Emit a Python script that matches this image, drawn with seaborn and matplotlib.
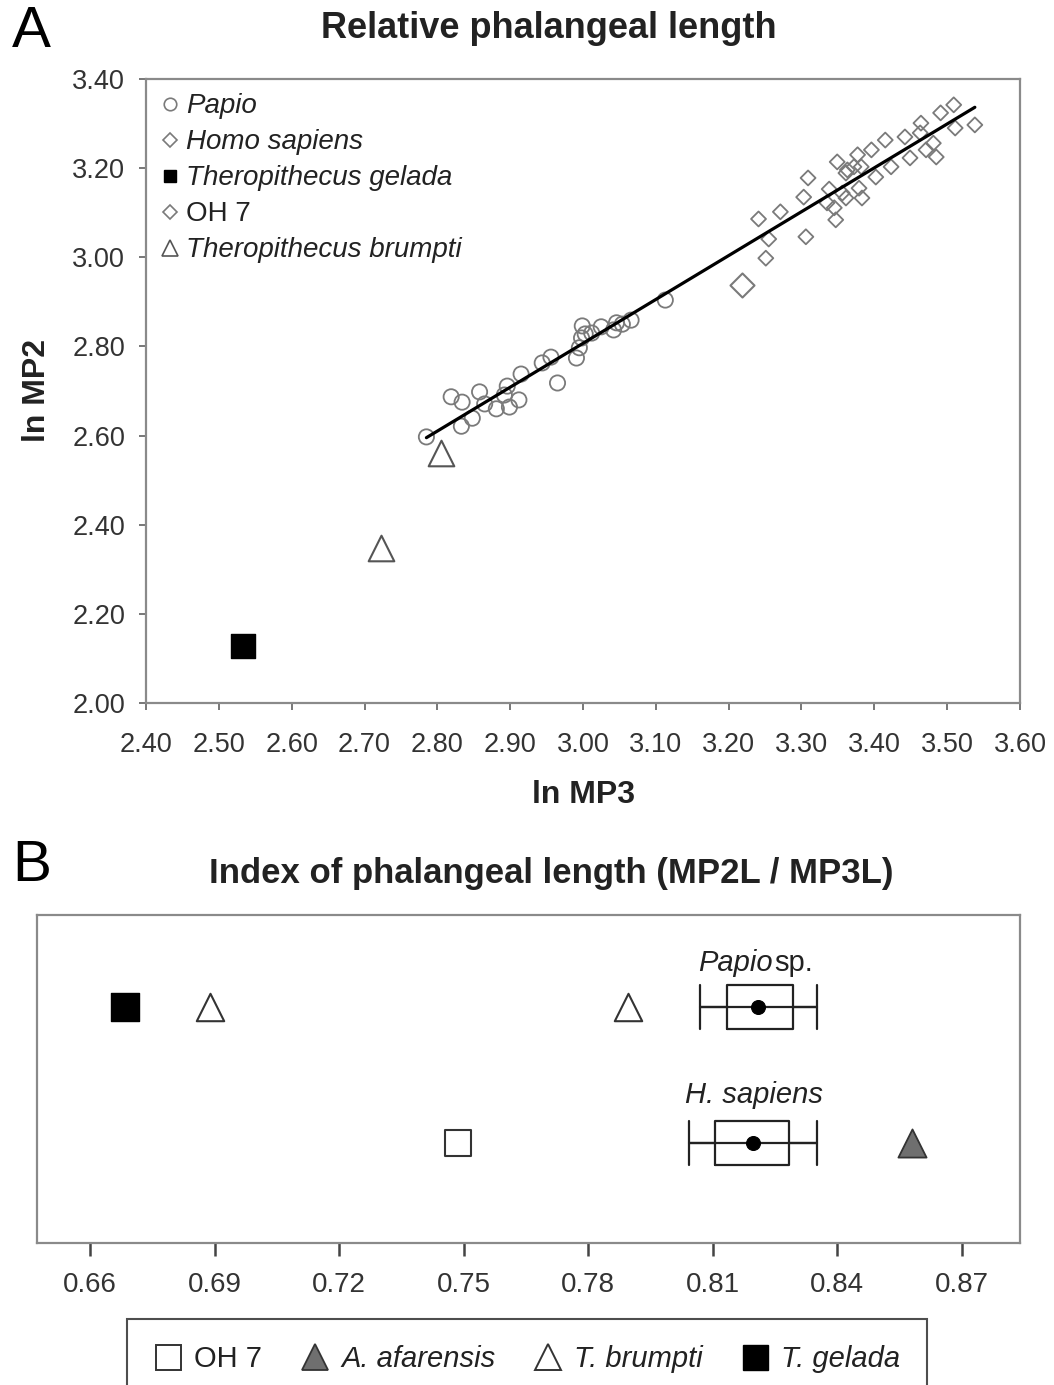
import numpy as np
import pandas as pd
import matplotlib
matplotlib.use("Agg")
import matplotlib.pyplot as plt
from matplotlib.lines import Line2D
import seaborn as sns

# ---------------- data ----------------
# Panel A: natural log of middle phalanx lengths (MP3 on x, MP2 on y)
papio_mp3 = [2.785, 2.819, 2.834, 2.833, 2.848, 2.858, 2.865, 2.881, 2.896, 2.899,
             2.912, 2.915, 2.892, 2.944, 2.956, 2.965, 2.991, 2.995, 2.998, 2.999,
             3.003, 3.012, 3.025, 3.042, 3.046, 3.054, 3.066, 3.113]
papio_mp2 = [2.597, 2.687, 2.675, 2.621, 2.639, 2.698, 2.671, 2.660, 2.711, 2.664,
             2.680, 2.738, 2.691, 2.763, 2.776, 2.718, 2.774, 2.797, 2.819, 2.846,
             2.828, 2.830, 2.844, 2.837, 2.853, 2.850, 2.859, 2.904]
homo_mp3 = [3.251, 3.255, 3.241, 3.271, 3.306, 3.303, 3.309, 3.338, 3.335, 3.347,
            3.345, 3.361, 3.349, 3.361, 3.372, 3.383, 3.379, 3.363, 3.382, 3.356,
            3.377, 3.396, 3.402, 3.415, 3.423, 3.442, 3.449, 3.463, 3.464, 3.471,
            3.481, 3.485, 3.491, 3.509, 3.511, 3.538]
homo_mp2 = [2.998, 3.041, 3.086, 3.102, 3.046, 3.135, 3.178, 3.153, 3.122, 3.084,
            3.111, 3.133, 3.214, 3.189, 3.203, 3.133, 3.155, 3.196, 3.203, 3.144,
            3.230, 3.241, 3.180, 3.263, 3.203, 3.270, 3.223, 3.279, 3.301, 3.241,
            3.256, 3.225, 3.324, 3.342, 3.290, 3.297]
gelada_mp3, gelada_mp2 = [2.533], [2.129]
brumpti_mp3, brumpti_mp2 = [2.723, 2.805], [2.348, 2.561]
oh7_mp3, oh7_mp2 = [3.218], [2.938]

# Panel B: index MP2L / MP3L
index_rows = ["Papio sp.", "H. sapiens"]
index_row_pos = [2, 1]
# [lower whisker, box low, mean, box high, upper whisker]
papio_index = [0.8069, 0.8135, 0.8209, 0.8292, 0.8350]
sapiens_index = [0.8043, 0.8105, 0.8197, 0.8283, 0.8351]
gelada_index = [0.6685]
brumpti_index = [0.6889, 0.7895]
oh7_index = [0.7486]
afarensis_index = [0.8579]

a_xticks = [2.40, 2.50, 2.60, 2.70, 2.80, 2.90, 3.00, 3.10, 3.20, 3.30, 3.40, 3.50, 3.60]
a_yticks = [2.00, 2.20, 2.40, 2.60, 2.80, 3.00, 3.20, 3.40]
b_xticks = [0.66, 0.69, 0.72, 0.75, 0.78, 0.81, 0.84, 0.87]

# ---------------- style ----------------
sns.set_theme(style="white")
plt.rcParams["font.family"] = ["Liberation Sans", "DejaVu Sans"]
plt.rcParams["axes.edgecolor"] = "#8a8a8a"
plt.rcParams["axes.linewidth"] = 1.6

W, H = 1054, 1385
fig = plt.figure(figsize=(W / 100, H / 100), dpi=100)

def fx(px):
    return px / W

def fy(py):
    return 1 - py / H

grey = "#7a7a7a"
text_col = "#333333"

# ---------------- panel A ----------------
axA = fig.add_axes([fx(146), fy(703), fx(1020) - fx(146), fy(79) - fy(703)])

papio_df = pd.DataFrame({"mp3": papio_mp3, "mp2": papio_mp2})
homo_df = pd.DataFrame({"mp3": homo_mp3, "mp2": homo_mp2})
both_df = pd.concat([papio_df, homo_df], ignore_index=True)

sns.scatterplot(data=papio_df, x="mp3", y="mp2", ax=axA, marker="o", s=120,
                facecolor="none", edgecolor=grey, linewidth=1.3, legend=False)
sns.scatterplot(data=homo_df, x="mp3", y="mp2", ax=axA, marker="D", s=58,
                facecolor="none", edgecolor=grey, linewidth=1.3, legend=False)
sns.scatterplot(x=oh7_mp3, y=oh7_mp2, ax=axA, marker="D", s=150,
                facecolor="white", edgecolor=grey, linewidth=1.5, legend=False)
sns.scatterplot(x=brumpti_mp3, y=brumpti_mp2, ax=axA, marker="^", s=340,
                facecolor="white", edgecolor="#555555", linewidth=1.5, legend=False)
sns.scatterplot(x=gelada_mp3, y=gelada_mp2, ax=axA, marker="s", s=280,
                facecolor="black", edgecolor="black", linewidth=1, legend=False)
sns.regplot(data=both_df, x="mp3", y="mp2", ax=axA, scatter=False, ci=None,
            truncate=True, line_kws=dict(color="black", lw=2.3))

axA.set_xlim(2.40, 3.60)
axA.set_ylim(2.00, 3.40)
axA.set_xticks(a_xticks)
axA.set_xticklabels([f"{v:.2f}" for v in a_xticks])
axA.set_yticks(a_yticks)
axA.set_yticklabels([f"{v:.2f}" for v in a_yticks])
axA.tick_params(axis="both", which="major", direction="out", length=5, width=1.4,
                color="#777777", labelsize=19.5, labelcolor=text_col,
                bottom=True, left=True)
axA.tick_params(axis="x", pad=16)
axA.tick_params(axis="y", pad=10)
axA.set_xlabel("")
axA.set_ylabel("")

handlesA = [
    Line2D([], [], ls="none", marker="o", ms=9, mfc="none", mec=grey, mew=1.2),
    Line2D([], [], ls="none", marker="D", ms=7, mfc="none", mec=grey, mew=1.2),
    Line2D([], [], ls="none", marker="s", ms=9, mfc="black", mec="black"),
    Line2D([], [], ls="none", marker="D", ms=7, mfc="none", mec=grey, mew=1.2),
    Line2D([], [], ls="none", marker="^", ms=11, mfc="none", mec="#555555", mew=1.2),
]
labelsA = ["Papio", "Homo sapiens", "Theropithecus gelada", "OH 7", "Theropithecus brumpti"]
legA = axA.legend(handlesA, labelsA, loc="upper left", bbox_to_anchor=(-0.008, 1.008),
                  frameon=False, fontsize=20, handlelength=0.8, handletextpad=0.2,
                  labelspacing=0.36, borderaxespad=0.3)
for t, lab in zip(legA.get_texts(), labelsA):
    t.set_color("#222222")
    if lab != "OH 7":
        t.set_style("italic")

fig.text(fx(12), fy(32), "A", fontsize=42, ha="left", va="center", color="black")
fig.text(fx(549), fy(28), "Relative phalangeal length", fontsize=26,
         fontweight="bold", ha="center", va="center", color="#222222")
fig.text(fx(583), fy(795), "ln MP3", fontsize=23, fontweight="bold",
         ha="center", va="center", color="#222222")
fig.text(fx(37), fy(391), "ln MP2", fontsize=23, fontweight="bold",
         ha="center", va="center", rotation=90, color="#222222")

# ---------------- panel B ----------------
axB = fig.add_axes([fx(37), fy(1243), fx(1020) - fx(37), fy(915) - fy(1243)])

box_h = 0.33
stats = []
for vals, lab in zip([papio_index, sapiens_index], index_rows):
    lo, q1, mean, q3, hi = vals
    stats.append(dict(whislo=lo, q1=q1, med=mean, q3=q3, whishi=hi,
                      fliers=[], label=lab))
axB.bxp(stats, positions=index_row_pos, widths=box_h, capwidths=box_h,
        orientation="horizontal", showfliers=False, manage_ticks=False,
        boxprops=dict(color="#222222", lw=1.6),
        whiskerprops=dict(color="#222222", lw=1.6),
        capprops=dict(color="#222222", lw=1.6),
        medianprops=dict(lw=0))
for vals, pos in zip([papio_index, sapiens_index], index_row_pos):
    axB.hlines(pos, vals[0], vals[4], color="#222222", lw=1.6, zorder=2)

means = pd.DataFrame({"index": [papio_index[2], sapiens_index[2]], "row": index_row_pos})
sns.scatterplot(data=means, x="index", y="row", ax=axB, marker="o", s=100,
                color="black", edgecolor="black", legend=False, zorder=4)

sns.scatterplot(x=gelada_index, y=[2] * len(gelada_index), ax=axB, marker="s", s=400,
                color="black", edgecolor="black", linewidth=1, legend=False, zorder=4)
sns.scatterplot(x=brumpti_index, y=[2] * len(brumpti_index), ax=axB, marker="^", s=390,
                facecolor="white", edgecolor="#333333", linewidth=1.5, legend=False, zorder=4)
sns.scatterplot(x=oh7_index, y=[1] * len(oh7_index), ax=axB, marker="s", s=360,
                facecolor="white", edgecolor="#333333", linewidth=1.5, legend=False, zorder=4)
sns.scatterplot(x=afarensis_index, y=[1] * len(afarensis_index), ax=axB, marker="^", s=410,
                facecolor="#6f6f6f", edgecolor="#333333", linewidth=1.3, legend=False, zorder=4)

axB.set_xlim(0.6472, 0.884)
axB.set_ylim(0.265, 2.676)
axB.set_yticks([])
axB.set_xticks(b_xticks)
axB.set_xticklabels([f"{v:.2f}" for v in b_xticks])
axB.tick_params(axis="x", direction="out", length=9, width=1.8, color="#444444",
                labelsize=20, labelcolor=text_col, pad=12, bottom=True)
axB.set_xlabel("")
axB.set_ylabel("")

axB.text(0.8245, 2.32, "Papio", style="italic", fontsize=21, ha="right",
         va="center", color="#222222")
axB.text(0.8248, 2.32, "sp.", fontsize=21, ha="left", va="center", color="#222222")
axB.text(0.8199, 1.35, "H. sapiens", style="italic", fontsize=21, ha="center",
         va="center", color="#222222")

fig.text(fx(12), fy(866), "B", fontsize=42, ha="left", va="center", color="black")
fig.text(fx(551), fy(873), "Index of phalangeal length (MP2L / MP3L)", fontsize=25,
         fontweight="bold", ha="center", va="center", color="#222222")

handlesB = [
    Line2D([], [], ls="none", marker="s", ms=18, mfc="white", mec="#333333", mew=1.4),
    Line2D([], [], ls="none", marker="^", ms=19, mfc="#6f6f6f", mec="#333333", mew=1.3),
    Line2D([], [], ls="none", marker="^", ms=19, mfc="white", mec="#333333", mew=1.4),
    Line2D([], [], ls="none", marker="s", ms=18, mfc="black", mec="black"),
]
labelsB = ["OH 7", "A. afarensis", "T. brumpti", "T. gelada"]
legB = fig.legend(handlesB, labelsB, loc="upper center", bbox_to_anchor=(fx(527), fy(1304)),
                  ncol=4, frameon=True, fancybox=False, fontsize=21, handlelength=1.0,
                  handletextpad=0.4, columnspacing=1.3, borderpad=0.9)
legB.get_frame().set_edgecolor("#222222")
legB.get_frame().set_linewidth(1.5)
for t, lab in zip(legB.get_texts(), labelsB):
    t.set_color("#222222")
    if lab != "OH 7":
        t.set_style("italic")

fig.savefig("out.png", dpi=100)
